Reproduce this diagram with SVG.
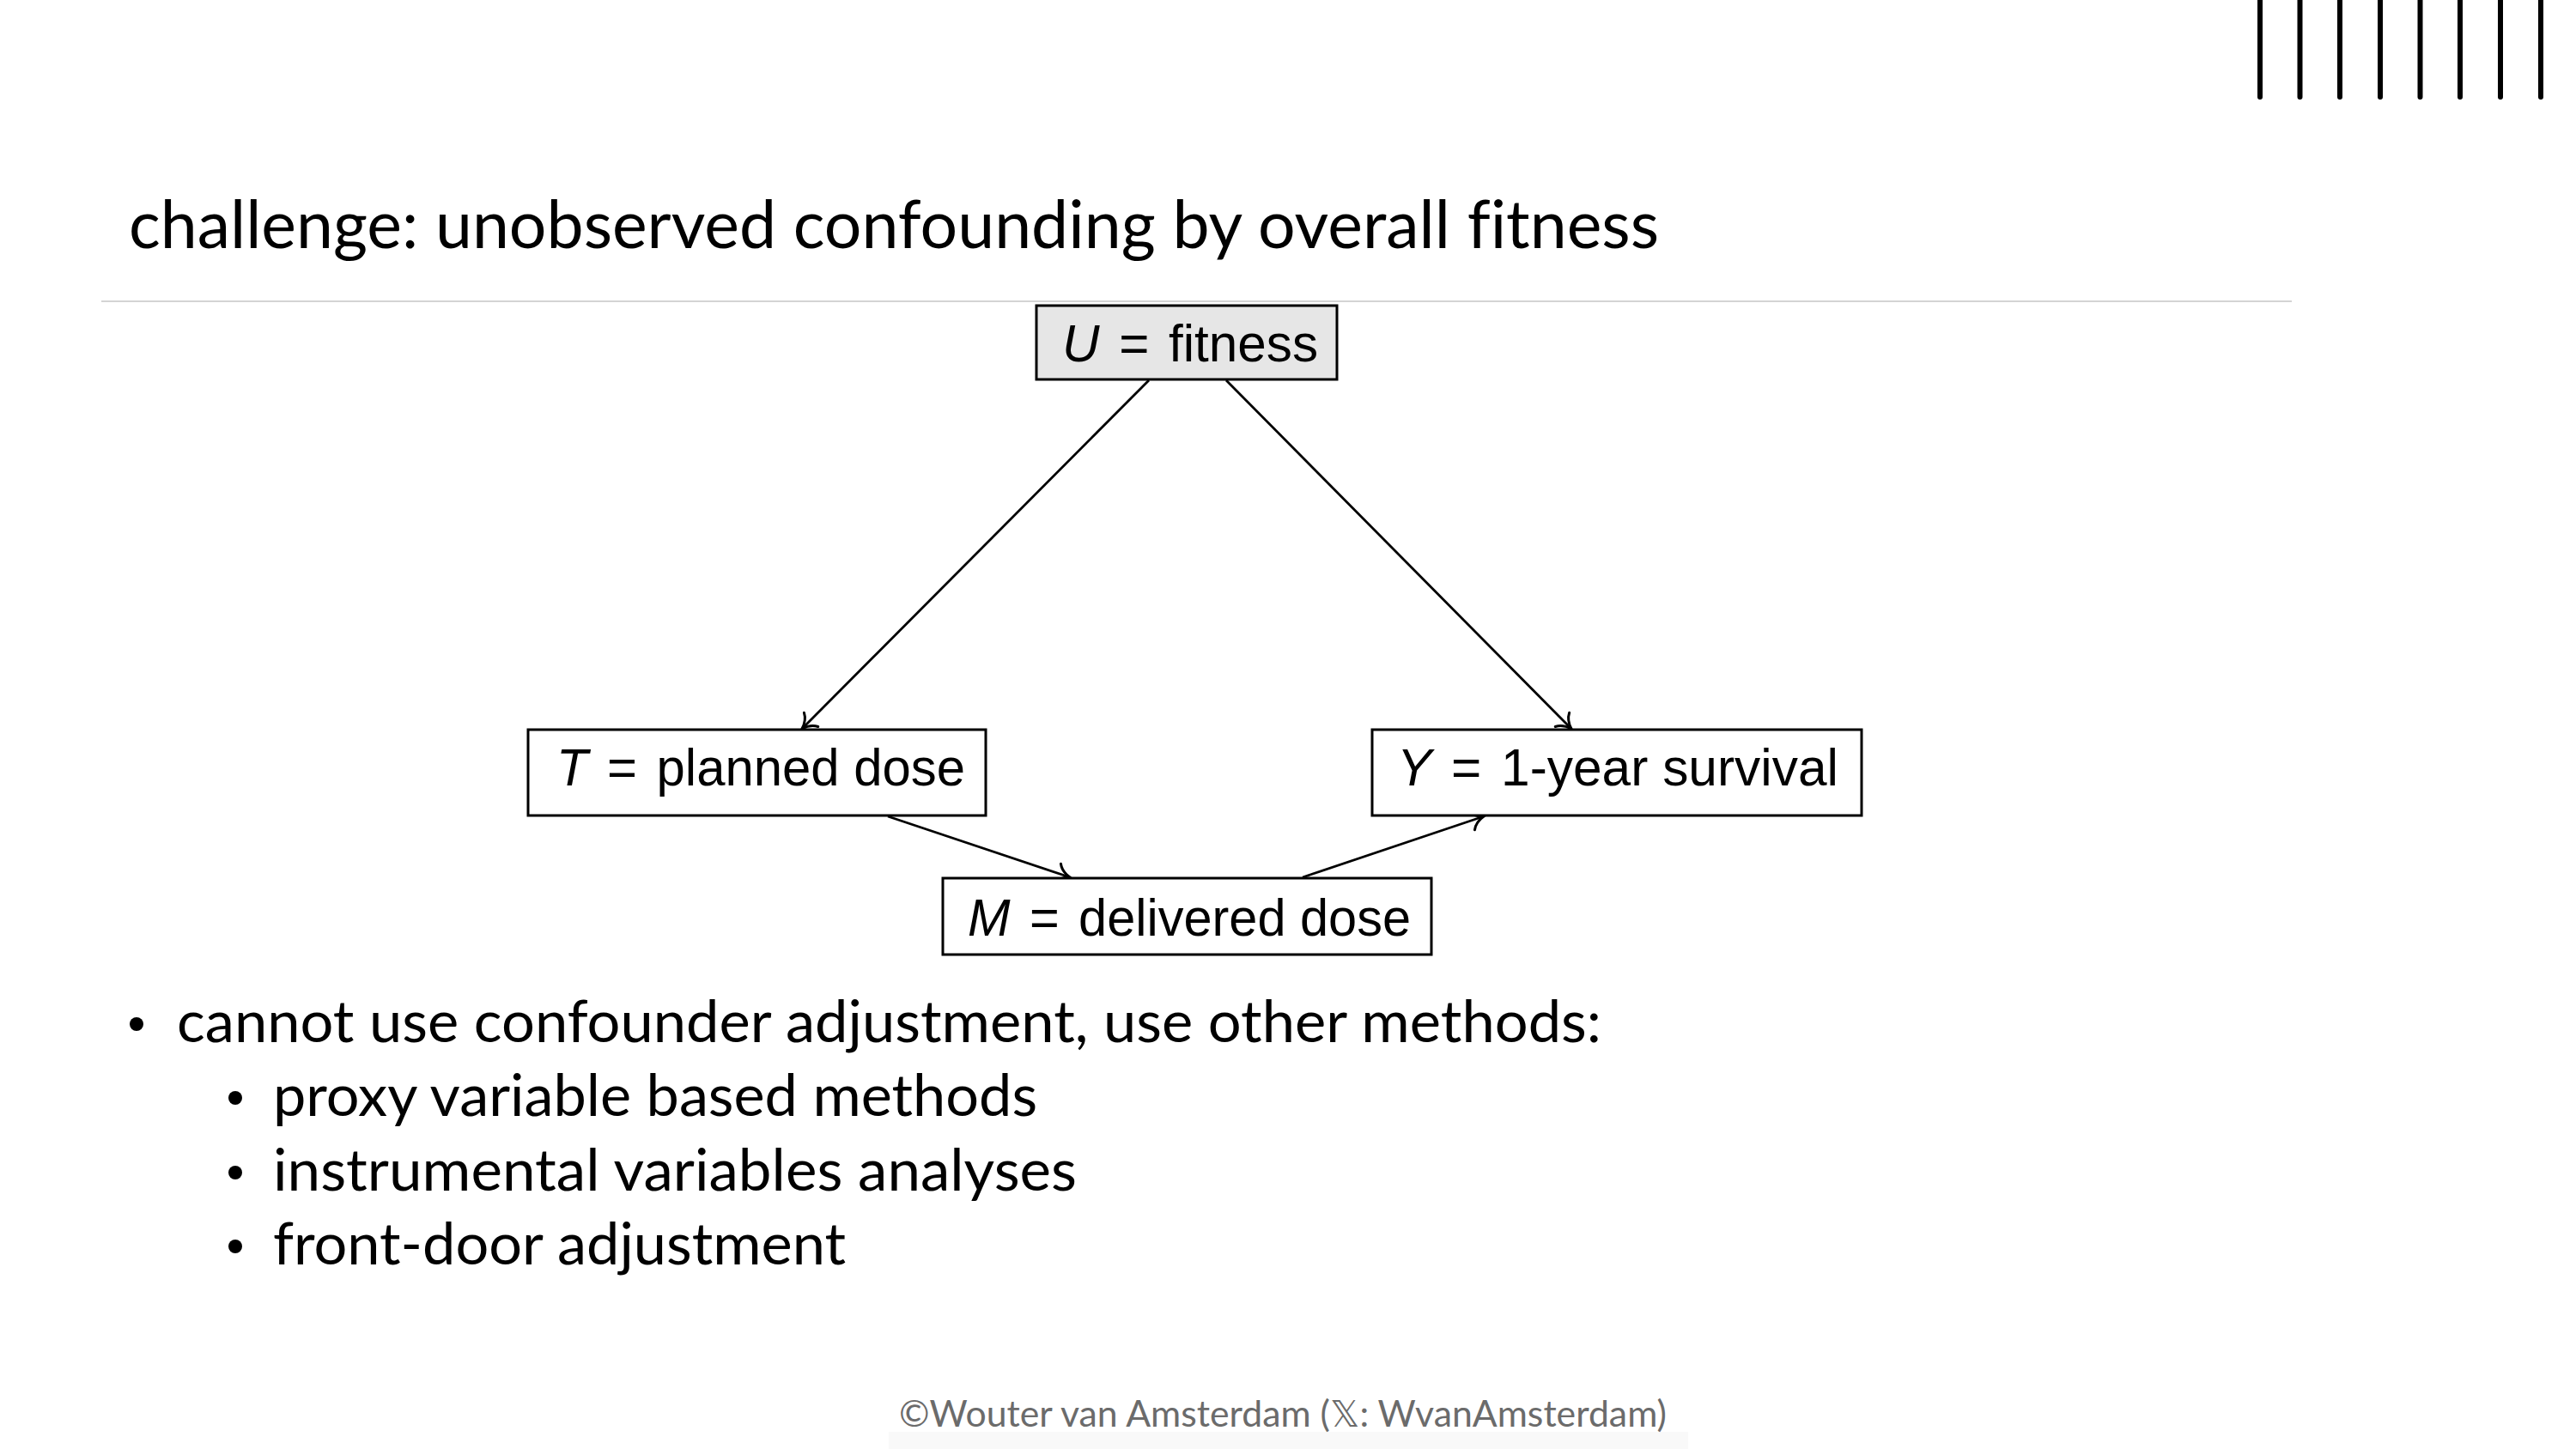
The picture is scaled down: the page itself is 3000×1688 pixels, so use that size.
<svg xmlns="http://www.w3.org/2000/svg" width="3000" height="1688" viewBox="0 0 3000 1688">
  <style>
    text { font-variant-ligatures: none; font-feature-settings: "liga" 0; }
    .slide { font-family: Lato, "Open Sans", "Noto Sans", sans-serif; fill: #000; }
    .node rect { fill: #fff; stroke: #000; stroke-width: 3; }
    .node.latent rect { fill: #e6e6e6; }
    .node text { font-family: "Liberation Sans", Arial, sans-serif; font-size: 61px; fill: #000; }
    .var { font-style: italic; }
    .edge { fill: none; stroke: #000; stroke-width: 2.8; marker-end: url(#arrow); }
    .bar { stroke: #000; stroke-width: 6; stroke-linecap: round; }
    .footer { font-family: Lato, "Open Sans", sans-serif; font-size: 43px; fill: #6b6b6b; }
  </style>
  <defs>
    <marker id="arrow" markerUnits="userSpaceOnUse" markerWidth="30" markerHeight="30" viewBox="-16 -13 20 26" refX="0" refY="0" orient="auto">
      <path d="M -13,-10 C -10,-4 -4,-1.2 0,0 C -4,1.2 -10,4 -13,10" fill="none" stroke="#000" stroke-width="2.6" stroke-linecap="round"/>
    </marker>
  </defs>

  <rect width="3000" height="1688" fill="#fff"/>

  <!-- decorative bars, top right -->
  <g id="bars">
    <line class="bar" x1="2632" y1="0" x2="2632" y2="113"/>
    <line class="bar" x1="2678.5" y1="0" x2="2678.5" y2="113"/>
    <line class="bar" x1="2725" y1="0" x2="2725" y2="113"/>
    <line class="bar" x1="2772" y1="0" x2="2772" y2="113"/>
    <line class="bar" x1="2818.5" y1="0" x2="2818.5" y2="113"/>
    <line class="bar" x1="2865" y1="0" x2="2865" y2="113"/>
    <line class="bar" x1="2912" y1="0" x2="2912" y2="113"/>
    <line class="bar" x1="2959" y1="0" x2="2959" y2="113"/>
  </g>

  <!-- title and rule -->
  <text id="title" class="slide" x="150" y="289" font-size="77" textLength="1782" lengthAdjust="spacingAndGlyphs">challenge: unobserved confounding by overall fitness</text>
  <line x1="118" y1="351" x2="2669" y2="351" stroke="#d4d4d4" stroke-width="2"/>

  <!-- connectors -->
  <g id="edges">
    <line class="edge" x1="1338" y1="443" x2="934" y2="849"/>
    <line class="edge" x1="1428" y1="443" x2="1830" y2="849"/>
    <line class="edge" x1="1034" y1="951" x2="1246" y2="1022"/>
    <line class="edge" x1="1517" y1="1022" x2="1728" y2="951"/>
  </g>

  <!-- nodes -->
  <g id="node-U" class="node latent">
    <rect x="1207" y="356" width="350" height="86"/>
    <text x="1237" y="421" textLength="298" lengthAdjust="spacingAndGlyphs"><tspan class="var">U</tspan> <tspan dx="6">=</tspan> <tspan dx="6">fitness</tspan></text>
  </g>
  <g id="node-T" class="node">
    <rect x="615" y="850" width="533" height="100"/>
    <text x="648" y="915" textLength="476" lengthAdjust="spacingAndGlyphs"><tspan class="var">T</tspan> <tspan dx="6">=</tspan> <tspan dx="6">planned dose</tspan></text>
  </g>
  <g id="node-Y" class="node">
    <rect x="1598" y="850" width="570" height="100"/>
    <text x="1627" y="915" textLength="514" lengthAdjust="spacingAndGlyphs"><tspan class="var">Y</tspan> <tspan dx="6">=</tspan> <tspan dx="6">1-year survival</tspan></text>
  </g>
  <g id="node-M" class="node">
    <rect x="1098" y="1023" width="569" height="89"/>
    <text x="1127" y="1090" textLength="516" lengthAdjust="spacingAndGlyphs"><tspan class="var">M</tspan> <tspan dx="6">=</tspan> <tspan dx="6">delivered dose</tspan></text>
  </g>

  <!-- bullet list -->
  <g id="bullets" class="slide" font-size="67">
    <circle cx="159" cy="1193" r="8"/>
    <text x="206" y="1214" textLength="1659" lengthAdjust="spacingAndGlyphs">cannot use confounder adjustment, use other methods:</text>
    <circle cx="274" cy="1279" r="8"/>
    <text x="318" y="1300" textLength="890" lengthAdjust="spacingAndGlyphs">proxy variable based methods</text>
    <circle cx="274" cy="1366" r="8"/>
    <text x="318" y="1387" textLength="936" lengthAdjust="spacingAndGlyphs">instrumental variables analyses</text>
    <circle cx="274" cy="1452" r="8"/>
    <text x="318" y="1473" textLength="667" lengthAdjust="spacingAndGlyphs">front-door adjustment</text>
  </g>

  <!-- footer -->
  <rect x="1035" y="1668" width="931" height="20" fill="#f9f9f9"/>
  <text id="footer" class="footer" x="1047" y="1662" textLength="894" lengthAdjust="spacingAndGlyphs">©Wouter van Amsterdam (<tspan font-family="'DejaVu Sans', sans-serif">𝕏</tspan>: WvanAmsterdam)</text>
</svg>
